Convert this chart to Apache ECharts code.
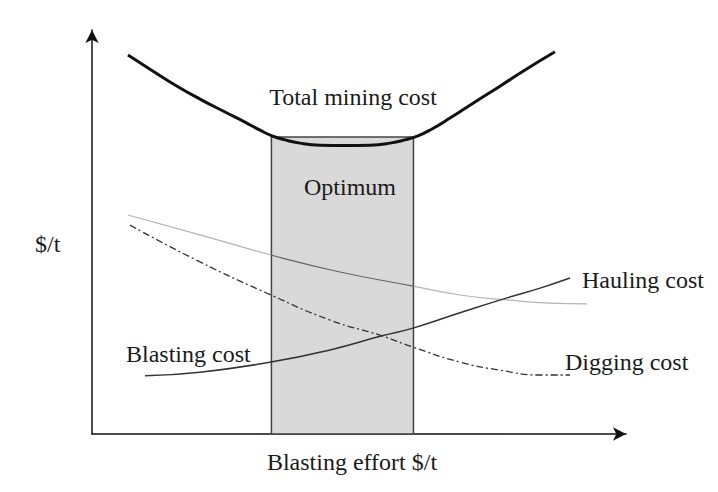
<!DOCTYPE html>
<html>
<head>
<meta charset="utf-8">
<script src="https://cdn.jsdelivr.net/npm/echarts@6/dist/echarts.min.js"></script>
<style>
html,body{margin:0;padding:0;background:#fff;}
#chart{width:718px;height:492px;}
</style>
</head>
<body>
<div id="chart"></div>
<script>
// Conceptual curves (arbitrary units, x: blasting effort, y: $/t)
var totalCost = [[6.74,93.8],[10.86,90.3],[15.54,86.4],[20.22,82.9],[24.91,79.7],[28.65,77.2],[31.46,75.2],[33.71,73.8],[36.14,72.8],[38.95,72.0],[42.70,71.5],[47.38,71.4],[52.06,71.5],[55.81,72.0],[58.61,72.8],[61.05,73.8],[63.67,75.5],[67.04,78.2],[71.72,82.2],[76.40,86.1],[81.09,90.1],[86.70,94.6]];
var haulingCost = [[6.74,54.2],[20.22,49.3],[33.52,44.3],[46.44,40.1],[60.11,36.6],[68.91,34.4],[77.72,33.2],[85.77,32.4],[92.70,32.2]];
var diggingCost = [[7.12,51.7],[20.22,42.6],[33.52,34.4],[44.57,28.2],[54.31,24.3],[60.11,21.5],[68.91,17.8],[76.40,15.8],[83.90,14.6],[89.51,14.6]];
var blastingCost = [[9.93,14.4],[20.22,15.3],[33.52,17.8],[44.57,20.8],[54.31,24.3],[60.11,26.2],[68.91,30.0],[77.72,33.7],[83.90,36.1],[89.51,38.6]];
var optimumRange = [33.6, 60.2];
var optimumTop = 73.5;
var xMax = 100, yMax = 100;

var labels = {
  total: 'Total mining cost',
  optimum: 'Optimum',
  hauling: 'Hauling cost',
  blasting: 'Blasting cost',
  digging: 'Digging cost',
  yName: '$/t',
  xName: 'Blasting effort $/t'
};

var chart = echarts.init(document.getElementById('chart'), null, {renderer: 'svg'});
var font = '"Liberation Serif", "Times New Roman", serif';
function txt(t, x, y, align) {
  return {type: 'text', x: x, y: y, z: 10,
    style: {text: t, x: 0, y: 0, fill: '#1a1a1a', font: '24px ' + font, textAlign: align, textVerticalAlign: 'middle'}};
}
// hauling line is darker where it crosses the shaded optimum band
var hx0 = haulingCost[0][0], hx1 = haulingCost[haulingCost.length - 1][0];
var f0 = (optimumRange[0] - hx0) / (hx1 - hx0), f1 = (optimumRange[1] - hx0) / (hx1 - hx0);
var haulColor = {type: 'linear', x: 0, y: 0, x2: 1, y2: 0, colorStops: [
  {offset: 0, color: '#b4b4b4'}, {offset: f0 - 0.002, color: '#b4b4b4'},
  {offset: f0, color: '#666'}, {offset: f1, color: '#666'},
  {offset: f1 + 0.002, color: '#b4b4b4'}, {offset: 1, color: '#b4b4b4'}]};

var axisLine = {show: true, symbol: ['none', 'arrow'], symbolSize: [10, 13], lineStyle: {color: '#111', width: 1.5}};
chart.setOption({
  backgroundColor: '#ffffff',
  animation: false,
  grid: {left: 92, right: 92, top: 30, bottom: 58},
  xAxis: {type: 'value', min: 0, max: xMax, axisLine: axisLine, axisTick: {show: false}, axisLabel: {show: false}, splitLine: {show: false}},
  yAxis: {type: 'value', min: 0, max: yMax, axisLine: axisLine, axisTick: {show: false}, axisLabel: {show: false}, splitLine: {show: false}},
  series: [
    {type: 'line', data: [], z: 1, silent: true,
      markArea: {silent: true,
        itemStyle: {color: '#d9d9d9', borderColor: '#444', borderWidth: 1.5},
        data: [[{coord: [optimumRange[0], 0]}, {coord: [optimumRange[1], optimumTop]}]]}},
    {type: 'line', name: labels.total, data: totalCost, smooth: true, showSymbol: false, z: 3,
      lineStyle: {color: '#111', width: 3}},
    {type: 'line', name: labels.hauling, data: haulingCost, smooth: true, showSymbol: false, z: 3,
      lineStyle: {color: haulColor, width: 1.2}},
    {type: 'line', name: labels.digging, data: diggingCost, smooth: true, showSymbol: false, z: 3,
      lineStyle: {color: '#333', width: 1.3, type: [7, 3, 2, 3]}},
    {type: 'line', name: labels.blasting, data: blastingCost, smooth: true, showSymbol: false, z: 3,
      lineStyle: {color: '#333', width: 1.5}}
  ],
  graphic: [
    txt(labels.total, 353, 97, 'center'),
    txt(labels.optimum, 350, 187, 'center'),
    txt(labels.hauling, 582, 280, 'left'),
    txt(labels.blasting, 126, 354, 'left'),
    txt(labels.digging, 565, 362, 'left'),
    txt(labels.yName, 35, 244, 'left'),
    txt(labels.xName, 352, 462, 'center')
  ]
});
</script>
</body>
</html>
